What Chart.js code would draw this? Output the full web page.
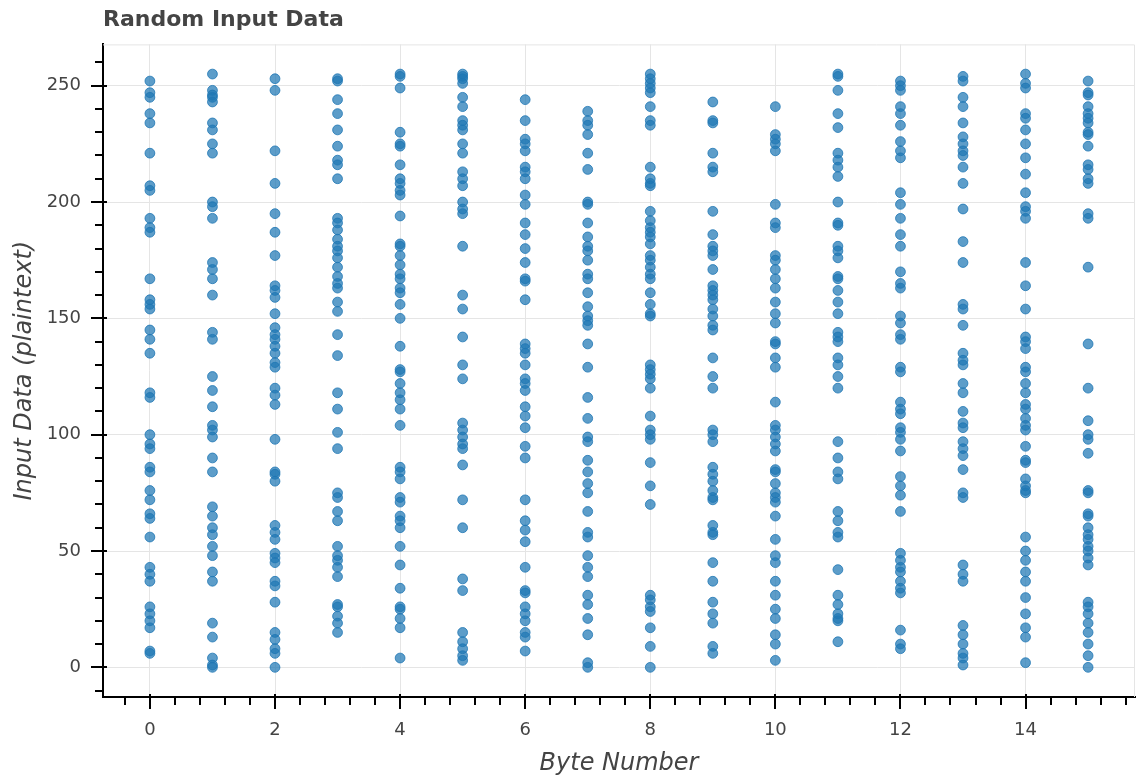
<!DOCTYPE html>
<html>
<head>
<meta charset="utf-8">
<title>Random Input Data</title>
<script src="https://cdn.jsdelivr.net/npm/chart.js@4.4.0/dist/chart.umd.min.js"></script>
<style>
  html, body { margin: 0; padding: 0; background: #fff; }
  #wrap { width: 1141px; height: 782px; }
</style>
</head>
<body>
<div id="wrap"><canvas id="scatterChart" width="1141" height="782"></canvas></div>
<script>
// Input byte values (0-255) per byte position

const byte0 = [252, 247, 245, 238, 234, 221, 207, 205, 193, 189, 187, 167, 158, 156, 154, 145, 141, 135, 118, 116, 100, 96, 94, 86, 84, 76, 72, 66, 64, 56, 43, 40, 37, 26, 23, 20, 17, 7, 6];
const byte1 = [255, 248, 246, 245, 243, 234, 231, 225, 221, 200, 198, 193, 174, 171, 167, 160, 144, 141, 125, 119, 112, 104, 102, 99, 90, 84, 69, 65, 60, 57, 52, 48, 41, 37, 19, 13, 4, 1, 0];
const byte2 = [253, 248, 222, 208, 195, 187, 177, 164, 162, 159, 152, 146, 143, 141, 138, 135, 131, 129, 120, 117, 113, 98, 84, 83, 80, 61, 58, 55, 49, 47, 45, 37, 35, 28, 15, 12, 8, 6, 0];
const byte3 = [253, 252, 244, 238, 231, 224, 218, 216, 210, 193, 191, 188, 184, 181, 179, 176, 172, 168, 165, 163, 157, 153, 143, 134, 118, 111, 101, 94, 75, 73, 67, 63, 52, 48, 46, 43, 39, 27, 26, 22, 19, 15];
const byte4 = [255, 254, 249, 230, 225, 224, 216, 210, 208, 205, 203, 194, 182, 181, 177, 173, 169, 167, 163, 161, 156, 150, 138, 128, 127, 122, 118, 115, 111, 104, 86, 84, 81, 73, 71, 65, 63, 60, 52, 44, 34, 26, 25, 21, 17, 4];
const byte5 = [255, 254, 253, 251, 245, 241, 235, 233, 231, 225, 221, 213, 210, 207, 200, 197, 195, 181, 160, 154, 142, 130, 124, 105, 102, 99, 96, 94, 87, 72, 60, 38, 33, 15, 11, 8, 5, 3];
const byte6 = [244, 235, 227, 225, 222, 215, 213, 210, 203, 199, 191, 186, 180, 174, 167, 166, 158, 139, 137, 135, 130, 124, 122, 119, 112, 108, 103, 95, 90, 72, 63, 59, 54, 43, 33, 32, 26, 23, 20, 15, 13, 7];
const byte7 = [239, 235, 233, 229, 221, 214, 200, 199, 191, 185, 181, 179, 175, 169, 167, 161, 155, 151, 149, 147, 139, 129, 116, 107, 99, 97, 89, 84, 79, 75, 67, 58, 56, 48, 43, 39, 31, 27, 21, 14, 2, 0];
const byte8 = [255, 253, 251, 249, 247, 241, 235, 233, 215, 210, 208, 207, 196, 192, 189, 187, 185, 182, 177, 175, 172, 169, 167, 161, 156, 152, 151, 130, 128, 126, 124, 120, 108, 102, 100, 98, 88, 78, 70, 31, 29, 26, 24, 17, 9, 0];
const byte9 = [243, 235, 234, 221, 215, 213, 196, 186, 181, 179, 177, 171, 164, 162, 160, 158, 154, 151, 147, 145, 133, 125, 120, 102, 100, 97, 86, 83, 80, 76, 73, 72, 61, 58, 57, 45, 37, 28, 23, 19, 9, 6];
const byte10 = [241, 229, 227, 225, 222, 199, 191, 189, 177, 175, 171, 167, 163, 157, 152, 148, 140, 139, 133, 129, 114, 104, 102, 99, 96, 93, 85, 84, 79, 75, 73, 71, 65, 55, 48, 45, 37, 31, 25, 21, 14, 10, 3];
const byte11 = [255, 254, 248, 238, 232, 221, 218, 215, 211, 200, 191, 190, 181, 179, 176, 168, 167, 162, 157, 152, 144, 142, 140, 133, 130, 125, 120, 97, 90, 84, 81, 67, 63, 58, 56, 42, 31, 27, 23, 21, 20, 11];
const byte12 = [252, 250, 248, 241, 238, 233, 226, 222, 219, 204, 199, 193, 186, 181, 170, 165, 163, 151, 148, 143, 141, 129, 127, 114, 111, 109, 103, 101, 98, 93, 82, 78, 74, 67, 49, 46, 43, 41, 37, 34, 32, 16, 10, 8];
const byte13 = [254, 252, 245, 241, 234, 228, 225, 222, 220, 215, 208, 197, 183, 174, 156, 154, 147, 135, 132, 130, 122, 118, 110, 105, 103, 97, 94, 91, 85, 75, 73, 44, 40, 37, 18, 14, 10, 6, 4, 1];
const byte14 = [255, 251, 249, 238, 236, 231, 225, 219, 212, 204, 198, 196, 193, 174, 164, 154, 142, 140, 137, 129, 127, 122, 118, 113, 111, 107, 104, 102, 95, 89, 88, 81, 78, 76, 75, 56, 50, 46, 41, 37, 30, 23, 17, 13, 2];
const byte15 = [252, 247, 246, 241, 238, 236, 234, 230, 229, 224, 216, 214, 210, 208, 195, 193, 172, 139, 120, 106, 100, 98, 92, 76, 75, 66, 65, 60, 57, 55, 52, 50, 47, 44, 28, 26, 23, 19, 15, 10, 5, 0];

const byteColumns = [byte0, byte1, byte2, byte3, byte4, byte5, byte6, byte7,
  byte8, byte9, byte10, byte11, byte12, byte13, byte14, byte15];

// axis ticks
const xTicks = [0, 2, 4, 6, 8, 10, 12, 14];
const yTicks = [0, 50, 100, 150, 200, 250];
const xMinorStep = 0.4;
const yMinorStep = 10;

const points = [];
byteColumns.forEach((col, i) => {
  col.forEach((v) => points.push({ x: i, y: v }));
});

const FONT = "'DejaVu Sans', sans-serif";
const TEXT = "#444444";
const GRID = "#e5e5e5";

// bokeh-ish axis decoration: outline, inward major ticks, minor ticks
const axisDecor = {
  id: "axisDecor",
  beforeDatasetsDraw(chart) {
    const { ctx, chartArea: a } = chart;
    ctx.save();
    ctx.strokeStyle = GRID;
    ctx.lineWidth = 1;
    ctx.beginPath();
    ctx.moveTo(a.left, a.top + 0.5);
    ctx.lineTo(a.right - 0.5, a.top + 0.5);
    ctx.lineTo(a.right - 0.5, a.bottom);
    ctx.stroke();
    ctx.restore();
  },
  afterDraw(chart) {
    const { ctx, chartArea: a, scales } = chart;
    const x = scales.x, y = scales.y;
    ctx.save();
    ctx.strokeStyle = "#000";
    ctx.lineWidth = 2;
    ctx.beginPath();
    // major ticks
    xTicks.forEach((v) => {
      const px = Math.round(x.getPixelForValue(v));
      ctx.moveTo(px, a.bottom - 3);
      ctx.lineTo(px, a.bottom + 12);
    });
    yTicks.forEach((v) => {
      const py = Math.round(y.getPixelForValue(v));
      ctx.moveTo(a.left + 4, py);
      ctx.lineTo(a.left - 12, py);
    });
    // minor ticks
    for (let v = Math.ceil(x.min / xMinorStep) * xMinorStep; v <= x.max; v += xMinorStep) {
      const px = Math.round(x.getPixelForValue(v));
      ctx.moveTo(px, a.bottom);
      ctx.lineTo(px, a.bottom + 8);
    }
    for (let v = Math.ceil(y.min / yMinorStep) * yMinorStep; v <= y.max; v += yMinorStep) {
      const py = Math.round(y.getPixelForValue(v));
      ctx.moveTo(a.left, py);
      ctx.lineTo(a.left - 8, py);
    }
    ctx.stroke();
    ctx.restore();
  },
};

new Chart(document.getElementById("scatterChart").getContext("2d"), {
  type: "scatter",
  data: {
    datasets: [
      {
        label: "Input Data",
        data: points,
        backgroundColor: "rgba(31, 119, 180, 0.72)",
        borderColor: "rgba(31, 119, 180, 0.8)",
        borderWidth: 1,
        pointRadius: 4.9,
      },
    ],
  },
  options: {
    responsive: false,
    animation: false,
    layout: { padding: { left: 0, right: 6, top: 0, bottom: 0 } },
    scales: {
      x: {
        type: "linear",
        min: -0.75,
        max: 15.75,
        afterBuildTicks: (scale) => {
          scale.ticks = xTicks.map((v) => ({ value: v }));
        },
        afterFit: (scale) => {
          scale.height = 85;
        },
        grid: { color: GRID, lineWidth: 1, drawTicks: false },
        border: { display: true, color: "#000", width: 2 },
        ticks: {
          color: TEXT,
          font: { family: FONT, size: 18 },
          padding: 23,
          autoSkip: false,
          maxRotation: 0,
          callback: (v) => String(v),
        },
        title: {
          display: true,
          text: "Byte Number",
          color: TEXT,
          font: { family: FONT, size: 24, style: "italic" },
          padding: { top: 0, bottom: 4 },
        },
      },
      y: {
        type: "linear",
        min: -12.75,
        max: 267.75,
        afterBuildTicks: (scale) => {
          scale.ticks = yTicks.map((v) => ({ value: v }));
        },
        afterFit: (scale) => {
          scale.width = 103;
        },
        grid: { color: GRID, lineWidth: 1, drawTicks: false },
        border: { display: true, color: "#000", width: 2 },
        ticks: {
          color: TEXT,
          font: { family: FONT, size: 18 },
          padding: 22,
          autoSkip: false,
          callback: (v) => String(v),
        },
        title: {
          display: true,
          text: "Input Data (plaintext)",
          color: TEXT,
          font: { family: FONT, size: 24, style: "italic" },
          padding: { top: 10, bottom: 0 },
        },
      },
    },
    plugins: {
      legend: { display: false },
      tooltip: { enabled: false },
      title: {
        display: true,
        text: "Random Input Data",
        align: "start",
        fullSize: false,
        color: TEXT,
        font: { family: FONT, size: 22, weight: "bold" },
        padding: { top: 7, bottom: 11 },
      },
    },
  },
  plugins: [axisDecor],
});
</script>
</body>
</html>
